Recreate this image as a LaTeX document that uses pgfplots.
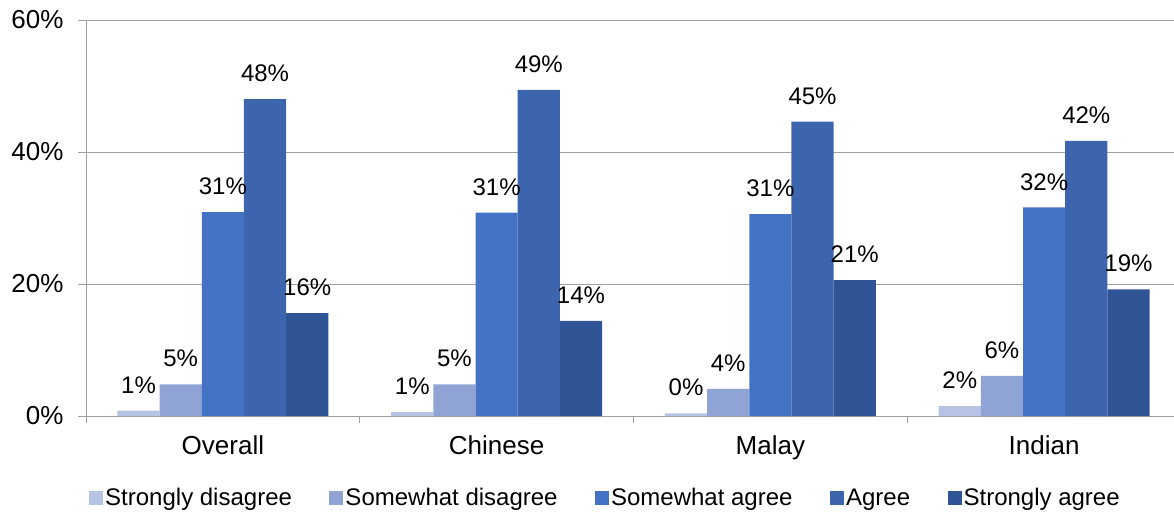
\documentclass[border=0pt]{standalone}
\usepackage{pgfplots}
\pgfplotsset{compat=1.18}
\usepackage{fontspec}
\setmainfont{Liberation Sans}
\definecolor{cSD}{RGB}{183,195,228}
\definecolor{cSwD}{RGB}{143,163,213}
\definecolor{cSA}{RGB}{68,114,196}
\definecolor{cA}{RGB}{61,101,174}
\definecolor{cStA}{RGB}{47,85,151}
\definecolor{gridc}{RGB}{160,160,160}
\begin{document}
\begin{tikzpicture}
\begin{axis}[name=ax, scale only axis, width=1095pt, height=396pt,
  xmin=-0.5, xmax=3.5, ymin=0, ymax=60,
  ytick={0,20,40,60}, yticklabels={0\%,20\%,40\%,60\%},
  xtick={0,1,2,3}, xticklabels={Overall,Chinese,Malay,Indian},
  minor xtick={-0.5,0.5,1.5,2.5,3.5},
  axis x line*=bottom, axis y line*=left,
  axis line style={gridc, line width=1pt},
  ymajorgrids, grid style={gridc, line width=1pt},
  tick align=outside,
  tick style={gridc, line width=1pt},
  major tick length=8pt, minor tick length=7pt,
  x tick style={draw=none},
  minor x tick style={draw=gridc, line width=1pt},
  ticklabel style={font=\fontsize{26}{30}\selectfont},
  xticklabel style={yshift=-8pt},
  yticklabel style={xshift=-11pt},
  /pgf/number format/assume math mode=true,
  ybar, bar width=0.154,
  nodes near coords={\pgfmathprintnumber[fixed,precision=0]{\pgfplotspointmeta}\%},
  every node near coord/.append style={font=\fontsize{24}{28}\selectfont, inner sep=0pt, yshift=17pt, black},
  legend columns=5,
  legend style={draw=none, at={(0.4744,-0.207)}, anchor=center,
    font=\fontsize{24}{28}\selectfont,
    /tikz/every even column/.append style={column sep=35.5pt}},
  legend cell align=left,
  legend image code/.code={\fill[#1] (0pt,-7pt) rectangle (14pt,7pt);},
]
\addplot[fill=cSD, draw=none, bar shift=-0.308] coordinates {(0,0.8) (1,0.6) (2,0.4) (3,1.5)};
\addplot[fill=cSwD, draw=none, bar shift=-0.154] coordinates {(0,4.8) (1,4.8) (2,4.1) (3,6.1)};
\addplot[fill=cSA, draw=none, bar shift=0] coordinates {(0,30.9) (1,30.8) (2,30.6) (3,31.6)};
\addplot[fill=cA, draw=none, bar shift=0.154] coordinates {(0,48.0) (1,49.4) (2,44.6) (3,41.7)};
\addplot[fill=cStA, draw=none, bar shift=0.308] coordinates {(0,15.6) (1,14.4) (2,20.6) (3,19.2)};
\legend{Strongly disagree, Somewhat disagree, Somewhat agree, Agree, Strongly agree}
\end{axis}
\pgfresetboundingbox
\path ([xshift=-86pt,yshift=-100pt]ax.south west) rectangle ([xshift=-7pt,yshift=20pt]ax.north east);
\end{tikzpicture}
\end{document}
